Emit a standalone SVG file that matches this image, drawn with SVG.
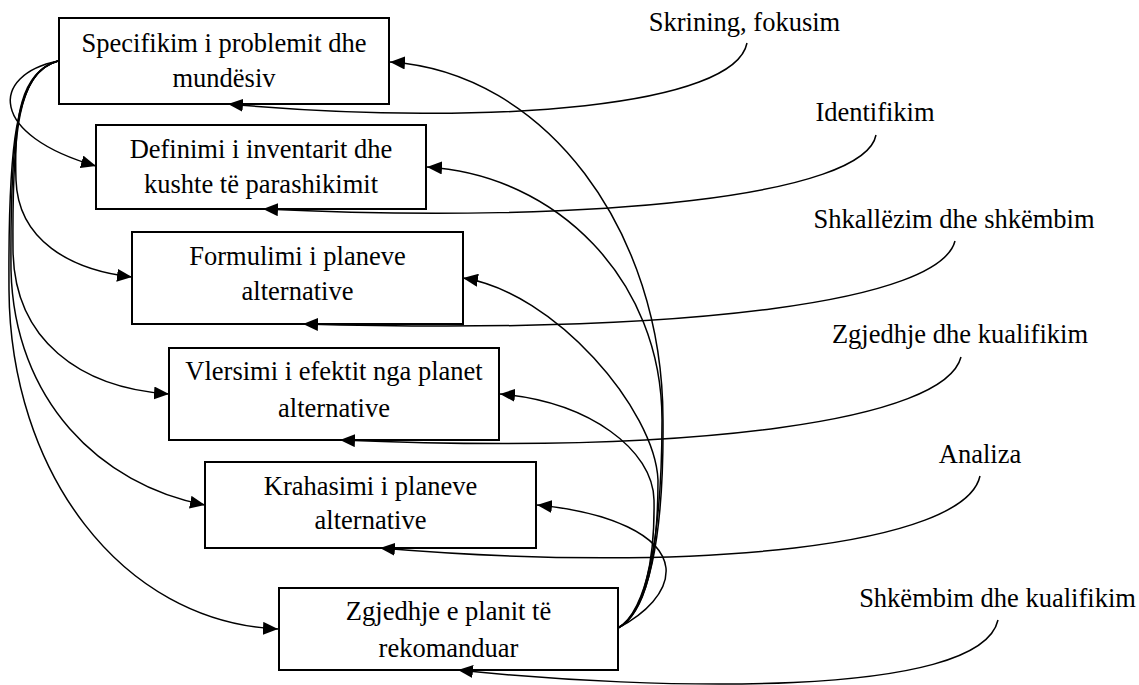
<svg xmlns="http://www.w3.org/2000/svg" width="1139" height="685" viewBox="0 0 1139 685">
<style>
.box{fill:#fff;stroke:#000;stroke-width:2}
.t{font-family:"Liberation Serif","Times New Roman",serif;font-size:26.5px;fill:#000;text-anchor:middle}
.c{fill:none;stroke:#000;stroke-width:1.5;marker-end:url(#ah)}
.l{fill:none;stroke:#000;stroke-width:1.5}
</style>
<defs>
<marker id="ah" markerUnits="userSpaceOnUse" markerWidth="16" markerHeight="13" refX="15" refY="6.5" orient="auto">
<path d="M0,0 L15,6.5 L0,13 z" fill="#000"/>
</marker>
</defs>
<rect width="1139" height="685" fill="#fff"/>
<g id="n1"><rect class="box" x="59" y="18" width="330" height="86"/><text class="t" x="224" y="52">Specifikim i problemit dhe</text><text class="t" x="224" y="87">mundësiv</text></g>
<g id="n2"><rect class="box" x="96" y="125" width="330" height="84"/><text class="t" x="261" y="158">Definimi i inventarit dhe</text><text class="t" x="261" y="193">kushte të parashikimit</text></g>
<g id="n3"><rect class="box" x="132" y="232" width="331" height="92"/><text class="t" x="297.5" y="265">Formulimi i planeve</text><text class="t" x="297.5" y="300">alternative</text></g>
<g id="n4"><rect class="box" x="169" y="348" width="330" height="92"/><text class="t" x="334" y="380">Vlersimi i efektit nga planet</text><text class="t" x="334" y="417">alternative</text></g>
<g id="n5"><rect class="box" x="205" y="462" width="331" height="86"/><text class="t" x="370.5" y="495">Krahasimi i planeve</text><text class="t" x="370.5" y="529">alternative</text></g>
<g id="n6"><rect class="box" x="279" y="588" width="339" height="82"/><text class="t" x="448.5" y="620">Zgjedhje e planit të</text><text class="t" x="448.5" y="657">rekomanduar</text></g>
<g id="labels">
<text class="t" x="744.5" y="31">Skrining, fokusim</text>
<text class="t" x="875" y="121">Identifikim</text>
<text class="t" x="954" y="228">Shkallëzim dhe shkëmbim</text>
<text class="t" x="960" y="343">Zgjedhje dhe kualifikim</text>
<text class="t" x="980" y="463">Analiza</text>
<text class="t" x="997.5" y="607">Shkëmbim dhe kualifikim</text>
</g>
<g id="connectors">
<path class="c" d="M58,61 C-10,75 -12,135 96,166"/>
<path class="c" d="M58,61 C20,72 14,120 16,180 C18,240 70,270 132,277"/>
<path class="c" d="M58,61 C18,72 12,130 13,250 C14,340 80,388 169,394"/>
<path class="c" d="M58,61 C16,72 10,140 11,270 C14,400 100,485 205,505"/>
<path class="c" d="M58,61 C14,72 8,150 9,290 C10,470 120,622 278,629"/>
<path class="c" d="M618,628 C648,612 664,540 663,420 C663,230 545,72 390,62"/>
<path class="c" d="M618,628 C646,612 662,540 662,420 C662,280 557,175 427,167"/>
<path class="c" d="M618,628 C645,614 658,560 658,480 C655,410 555,292 463,278"/>
<path class="c" d="M618,628 C644,614 655,560 654,500 C653,450 590,402 500,394"/>
<path class="c" d="M618,628 C645,614 668,592 666,568 C662,535 610,512 537,505"/>
<path class="c" d="M747,43 C735,105 500,128 228,104"/>
<path class="c" d="M876,135 C865,195 600,225 263,209"/>
<path class="c" d="M955,241 C940,300 700,335 303,324"/>
<path class="c" d="M961,357 C945,420 700,455 340,440"/>
<path class="c" d="M980,476 C965,545 700,575 380,548"/>
<path class="c" d="M998,620 C980,700 650,690 458,670"/>
</g>
</svg>
